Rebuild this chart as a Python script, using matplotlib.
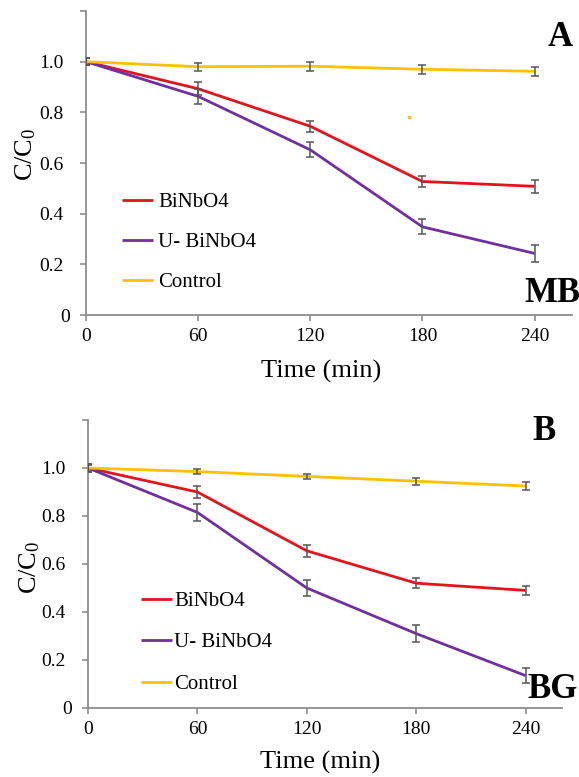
import matplotlib
matplotlib.use("Agg")
import matplotlib.pyplot as plt
import matplotlib.transforms as mtransforms

# ============================================================
# DATA
# ============================================================
time_min = [0, 60, 120, 180, 240]
series_names = ["BiNbO4", "U- BiNbO4", "Control"]

# Panel A (MB)
mb_binbo4 = [1.0, 0.893, 0.745, 0.527, 0.508]
mb_u_binbo4 = [1.0, 0.863, 0.652, 0.348, 0.243]
mb_control = [1.0, 0.980, 0.982, 0.970, 0.962]
mb_err_binbo4 = [0.015, 0.025, 0.022, 0.020, 0.025]
mb_err_u_binbo4 = [0.015, 0.030, 0.030, 0.030, 0.035]
mb_err_control = [0.015, 0.015, 0.018, 0.018, 0.018]

# Panel B (BG)
bg_binbo4 = [1.0, 0.900, 0.655, 0.520, 0.490]
bg_u_binbo4 = [1.0, 0.815, 0.500, 0.310, 0.135]
bg_control = [1.0, 0.985, 0.965, 0.945, 0.925]
bg_err_binbo4 = [0.015, 0.025, 0.025, 0.022, 0.020]
bg_err_u_binbo4 = [0.015, 0.035, 0.035, 0.035, 0.030]
bg_err_control = [0.012, 0.012, 0.012, 0.015, 0.018]

# stray orange dot in panel A
stray_x = [173]
stray_y = [0.78]

x_ticks = [0, 60, 120, 180, 240]
y_ticks = [0, 0.2, 0.4, 0.6, 0.8, 1.0, 1.2]
y_tick_labels = ["0", "0.2", "0.4", "0.6", "0.8", "1.0", ""]

COLORS = ["#e3141c", "#7030a0", "#ffc000"]
AXIS_GREY = "#8c8c8c"

plt.rcParams["font.family"] = ["Liberation Serif", "DejaVu Serif"]
plt.rcParams["mathtext.fontset"] = "custom"
plt.rcParams["mathtext.rm"] = "Liberation Serif"
plt.rcParams["mathtext.it"] = "Liberation Serif:italic"

fig = plt.figure(figsize=(5.79, 7.77), dpi=100)

# axes rects in pixel terms
ax_a = fig.add_axes([86 / 579, 1 - 315 / 777, (572 - 86) / 579, (315 - 11) / 777])
ax_b = fig.add_axes([88 / 579, 1 - 708 / 777, (562 - 88) / 579, (708 - 420) / 777])


def draw_panel(ax, ys, errs, legend_anchor, textpad, spacing, ylab_xy, xlab_xy):
    for y, e, c, name in zip(ys, errs, COLORS, series_names):
        ax.plot(time_min, y, color=c, lw=2.0, label=name, zorder=2,
                solid_capstyle="butt")
        ax.errorbar(time_min, y, yerr=e, fmt="none", ecolor="#555555",
                    elinewidth=1.1, capsize=3, capthick=1.1, zorder=3)
    ax.set_xlim(0, 260)
    ax.set_ylim(0, 1.2)
    ax.set_xticks(x_ticks)
    ax.set_yticks(y_ticks)
    ax.set_yticklabels(y_tick_labels)
    for s in ["top", "right"]:
        ax.spines[s].set_visible(False)
    for s in ["left", "bottom"]:
        ax.spines[s].set_color(AXIS_GREY)
        ax.spines[s].set_linewidth(1.3)
    ax.tick_params(axis="both", colors=AXIS_GREY, labelcolor="black",
                   labelsize=14, length=4, width=1.2, direction="out")
    ax.tick_params(axis="y", pad=12)
    ax.tick_params(axis="x", pad=5)
    # shift "0" y label right like the original
    off = mtransforms.ScaledTranslation(6 / 100, 0, fig.dpi_scale_trans)
    for lbl in ax.get_yticklabels():
        if lbl.get_text() == "0":
            lbl.set_transform(lbl.get_transform() + off)
    ax.set_ylabel(r"C/C$_0$", fontsize=19)
    ax.yaxis.set_label_coords(*ylab_xy)
    ax.yaxis.label.set_va("center")
    ax.set_xlabel("Time (min)", fontsize=19)
    ax.xaxis.set_label_coords(*xlab_xy)
    ax.xaxis.label.set_va("center")
    ax.legend(loc="upper left", bbox_to_anchor=legend_anchor, frameon=False,
              fontsize=15, handlelength=1.5, handletextpad=textpad,
              labelspacing=spacing, borderpad=0, borderaxespad=0)


draw_panel(ax_a, [mb_binbo4, mb_u_binbo4, mb_control],
           [mb_err_binbo4, mb_err_u_binbo4, mb_err_control],
           (0.074, 0.402), 0.25, 0.97, (-0.125, 0.53), (0.4835, -0.185))
ax_a.plot(stray_x, stray_y, "s", color="#ffc000", ms=2, zorder=2)

draw_panel(ax_b, [bg_binbo4, bg_u_binbo4, bg_control],
           [bg_err_binbo4, bg_err_u_binbo4, bg_err_control],
           (0.112, 0.405), 0.1, 1.05, (-0.122, 0.49), (0.49, -0.1875))

# panel letters and dye labels
fig.text(548 / 579, 1 - 37 / 777, "A", fontsize=25, fontweight="bold", va="center")
fig.text(524 / 579, 1 - 293 / 777, "MB", fontsize=25, fontweight="bold", va="center")
fig.text(532 / 579, 1 - 432 / 777, "B", fontsize=25, fontweight="bold", va="center")
fig.text(527 / 579, 1 - 690 / 777, "BG", fontsize=25, fontweight="bold", va="center")

fig.savefig("out.png", dpi=100)
